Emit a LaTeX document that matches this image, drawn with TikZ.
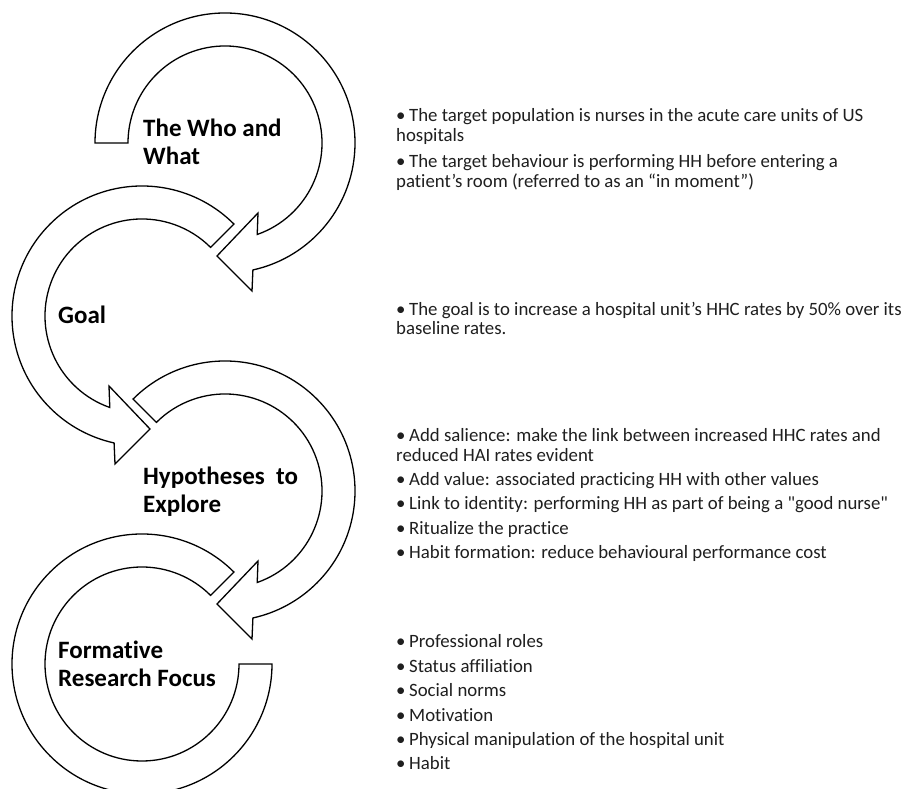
\documentclass[tikz,border=0pt]{standalone}
\usepackage{fontspec}
\setmainfont{Carlito}[Ligatures={TeXOff,CommonOff}]
\usetikzlibrary{calc}
% one bullet paragraph: bullet, then text; wrapped lines hang slightly in
\newcommand\bulletpar[1]{\par\hangindent=8pt\hangafter=1\noindent\makebox[13pt][l]{•}#1}
% a column of bullet paragraphs; the optional argument is the gap between them
\newcommand\notesblock[2][5.2pt]{\parbox[t]{515pt}{\raggedright\setlength{\parskip}{#1}#2}}
% a stage name, top line on the node's baseline
\newcommand\stagename[1]{\parbox[t]{300pt}{\raggedright #1}}
\begin{document}
\begin{tikzpicture}[x=1pt,y=1pt,
  ring/.style={draw=black, line width=1.3pt, fill=white, line join=miter},
  heading/.style={font=\fontsize{25}{27.5}\selectfont\bfseries, inner sep=0pt, anchor=base west},
  notes/.style={font=\fontsize{18.8}{19.2}\selectfont, inner sep=0pt, anchor=base west, text=black!88},
  % circular band arrow: starts with a flat cut at angle #1, runs clockwise,
  % ends in an arrowhead just past the bottom of the ring
  pics/ringarrow/.style={code={
    \path[ring] (#1:130pt) arc[start angle=#1, end angle=-77.6, radius=130pt]
      -- (27pt,-148pt) -- (-8pt,-113pt) -- (33pt,-70pt) -- (-70.6:97pt)
      arc[start angle=-70.6, end angle=#1, radius=97pt] -- cycle;
  }}]
\useasboundingbox (0,0) rectangle (915,789);
\clip (0,0) rectangle (915,789);
\fill[white] (0,0) rectangle (915,789);

% the four linked bands
\pic at (225,646) {ringarrow=180};
\pic[xscale=-1] at (142,473) {ringarrow=135};
\pic at (225,298) {ringarrow=135};
\begin{scope}[shift={(142,125)}]
  \path[ring] (45:130pt) arc[start angle=45, end angle=360, radius=130pt]
    -- (0:97pt) arc[start angle=360, end angle=45, radius=97pt] -- cycle;
\end{scope}

% stage names
\node[heading] (who) at (143,652) {\stagename{The Who and\\What}};
\node[heading] (goal) at (58,465) {\stagename{Goal}};
\node[heading] (hyp) at (143,304) {\stagename{Hypotheses~~to\\Explore}};
\node[heading] (form) at (58,130) {\stagename{Formative\\Research Focus}};

% notes for each stage
\node[notes] (whonotes) at (396,667) {\notesblock[7.6pt]{%
  \bulletpar{The target population is nurses in the acute care units of US\\hospitals}
  \bulletpar{The target behaviour is performing HH before entering a\\patient’s room (referred to as an “in moment”)}}};
\node[notes] (goalnotes) at (396,473.3) {\notesblock{%
  \bulletpar{The goal is to increase a hospital unit’s HHC rates by 50\% over its\\baseline rates.}}};
\node[notes] (hypnotes) at (396,347) {\notesblock{%
  \bulletpar{Add salience: make the link between increased HHC rates and\\reduced HAI rates evident}
  \bulletpar{Add value: associated practicing HH with other values}
  \bulletpar{Link to identity: performing HH as part of being a "good nurse"}
  \bulletpar{Ritualize the practice}
  \bulletpar{Habit formation: reduce behavioural performance cost}}};
\node[notes] (formnotes) at (396,141) {\notesblock{%
  \bulletpar{Professional roles}
  \bulletpar{Status affiliation}
  \bulletpar{Social norms}
  \bulletpar{Motivation}
  \bulletpar{Physical manipulation of the hospital unit}
  \bulletpar{Habit}}};
\end{tikzpicture}
\end{document}
